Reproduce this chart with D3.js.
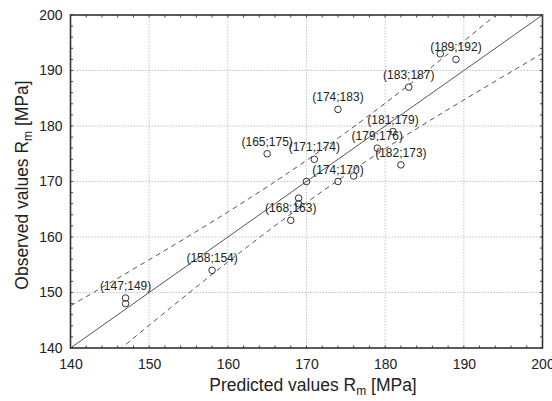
<!DOCTYPE html>
<html>
<head>
<meta charset="utf-8">
<script src="https://cdn.jsdelivr.net/npm/d3@7"></script>
<style>
  html, body { margin: 0; padding: 0; background: #fff; }
  svg { display: block; font-family: "Liberation Sans", Arial, sans-serif; }
</style>
</head>
<body>
<svg id="chart" width="552" height="401"></svg>
<script>
// Observed vs predicted tensile strength Rm [MPa]
const predicted = [147, 147, 158, 165, 168, 169, 169, 170, 171, 174, 174, 176, 179, 181, 182, 183, 187, 189];
const observed  = [149, 148, 154, 175, 163, 166, 167, 170, 174, 183, 170, 171, 176, 179, 173, 187, 193, 192];
// labelled points (predicted;observed)
const labelPred = [147, 158, 165, 168, 171, 174, 174, 179, 181, 182, 183, 189];
const labelObs  = [149, 154, 175, 163, 174, 183, 170, 176, 179, 173, 187, 192];

// regression line and confidence band
const fitX = [140, 200];
const fitY = [140, 200];
const bandX     = [140, 150, 160, 170, 180, 190, 200];
const bandUpper = [147.6, 155.9, 164.5, 173.8, 184.1, 195.3, 206.9];
const bandLower = [132.4, 144.1, 155.5, 166.2, 175.9, 184.7, 193.1];

const xTicks = [140, 150, 160, 170, 180, 190, 200];
const yTicks = [140, 150, 160, 170, 180, 190, 200];
const minorTicks = d3.range(140, 201, 2);

const svg = d3.select("#chart");
const pLeft = 70.5, pRight = 542.5, pTop = 15, pBottom = 348;

const x = d3.scaleLinear().domain([140, 200]).range([pLeft, pRight]);
const y = d3.scaleLinear().domain([140, 200]).range([pBottom, pTop]);

svg.append("defs").append("clipPath").attr("id", "plotClip")
  .append("rect").attr("x", pLeft).attr("y", pTop)
  .attr("width", pRight - pLeft).attr("height", pBottom - pTop);

// grid
const grid = svg.append("g").attr("stroke", "#c4c4c4").attr("stroke-width", 1)
  .attr("stroke-dasharray", "1.5,1.5");
grid.selectAll(".gx").data(xTicks.slice(1, -1)).join("line")
  .attr("x1", d => x(d)).attr("x2", d => x(d)).attr("y1", pTop).attr("y2", pBottom);
grid.selectAll(".gy").data(yTicks.slice(1, -1)).join("line")
  .attr("y1", d => y(d)).attr("y2", d => y(d)).attr("x1", pLeft).attr("x2", pRight);

// axes: tick labels from d3 axes, minor ticks inward on all sides
const xAxis = svg.append("g").attr("transform", `translate(0,${pBottom})`)
  .call(d3.axisBottom(x).tickValues(xTicks).tickSize(0).tickPadding(11));
const yAxis = svg.append("g").attr("transform", `translate(${pLeft},0)`)
  .call(d3.axisLeft(y).tickValues(yTicks).tickSize(0).tickPadding(8));
[xAxis, yAxis].forEach(a => {
  a.select(".domain").remove();
  a.selectAll("text").attr("font-size", 14).attr("fill", "#222")
    .attr("font-family", "'Liberation Sans', Arial, sans-serif");
});

const ticks = svg.append("g").attr("stroke", "#444").attr("stroke-width", 1);
const tl = 2.5;
ticks.selectAll(".tb").data(minorTicks).join("line")
  .attr("x1", d => x(d)).attr("x2", d => x(d)).attr("y1", pBottom).attr("y2", pBottom - tl);
ticks.selectAll(".tt").data(minorTicks).join("line")
  .attr("x1", d => x(d)).attr("x2", d => x(d)).attr("y1", pTop).attr("y2", pTop + tl);
ticks.selectAll(".tlft").data(minorTicks).join("line")
  .attr("y1", d => y(d)).attr("y2", d => y(d)).attr("x1", pLeft).attr("x2", pLeft + tl);
ticks.selectAll(".trt").data(minorTicks).join("line")
  .attr("y1", d => y(d)).attr("y2", d => y(d)).attr("x1", pRight).attr("x2", pRight - tl);

// plot frame
svg.append("rect").attr("x", pLeft).attr("y", pTop)
  .attr("width", pRight - pLeft).attr("height", pBottom - pTop)
  .attr("fill", "none").attr("stroke", "#333").attr("stroke-width", 1.6);

const plot = svg.append("g").attr("clip-path", "url(#plotClip)");

// fitted line
plot.append("path")
  .datum(fitX.map((v, i) => [v, fitY[i]]))
  .attr("d", d3.line().x(d => x(d[0])).y(d => y(d[1])))
  .attr("fill", "none").attr("stroke", "#555").attr("stroke-width", 1);

// confidence band
const bandLine = d3.line().curve(d3.curveNatural).x(d => x(d[0])).y(d => y(d[1]));
[bandUpper, bandLower].forEach(vals => {
  plot.append("path")
    .datum(bandX.map((v, i) => [v, vals[i]]))
    .attr("d", bandLine)
    .attr("fill", "none").attr("stroke", "#555").attr("stroke-width", 1)
    .attr("stroke-dasharray", "5,4");
});

// observations
plot.selectAll("circle").data(predicted.map((p, i) => [p, observed[i]])).join("circle")
  .attr("cx", d => x(d[0])).attr("cy", d => y(d[1])).attr("r", 3.3)
  .attr("fill", "none").attr("stroke", "#333").attr("stroke-width", 1);

// point labels
svg.append("g").selectAll("text").data(labelPred.map((p, i) => [p, labelObs[i]])).join("text")
  .attr("x", d => x(d[0])).attr("y", d => y(d[1]) - 8)
  .attr("text-anchor", "middle").attr("font-size", 12).attr("fill", "#222")
  .text(d => `(${d[0]};${d[1]})`);

// axis titles
const xt = svg.append("text").attr("x", 313).attr("y", 391)
  .attr("text-anchor", "middle").attr("font-size", 17.5).attr("fill", "#222");
xt.append("tspan").text("Predicted values R");
xt.append("tspan").attr("font-size", 12).attr("dy", 4).text("m");
xt.append("tspan").attr("dy", -4).text(" [MPa]");

const yt = svg.append("text")
  .attr("transform", `translate(28,${185}) rotate(-90)`)
  .attr("text-anchor", "middle").attr("font-size", 17.5).attr("fill", "#222");
yt.append("tspan").text("Observed values R");
yt.append("tspan").attr("font-size", 12).attr("dy", 4).text("m");
yt.append("tspan").attr("dy", -4).text(" [MPa]");
</script>
</body>
</html>
